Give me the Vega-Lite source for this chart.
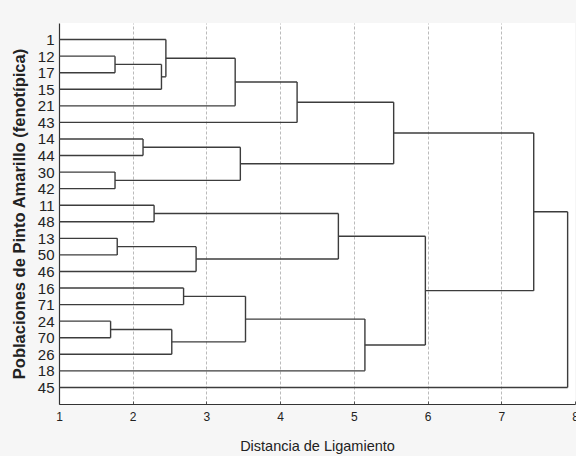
{
  "$schema": "https://vega.github.io/schema/vega-lite/v6.json",
  "autosize": {"type": "none"},
  "width": 516,
  "height": 381,
  "padding": {"left": 59, "top": 23, "right": 1, "bottom": 52},
  "background": "#f6f6f6",
  "config": {
    "view": {"fill": "white", "stroke": null},
    "font": "Liberation Sans"
  },
  "data": {
    "values": [
      {"h": 1.76, "ya": 2, "ha": 1, "yb": 3, "hb": 1},
      {"h": 2.39, "ya": 2.5, "ha": 1.76, "yb": 4, "hb": 1},
      {"h": 2.45, "ya": 1, "ha": 1, "yb": 3.25, "hb": 2.39},
      {"h": 3.39, "ya": 2.125, "ha": 2.45, "yb": 5, "hb": 1},
      {"h": 4.23, "ya": 3.5625, "ha": 3.39, "yb": 6, "hb": 1},
      {"h": 2.14, "ya": 7, "ha": 1, "yb": 8, "hb": 1},
      {"h": 1.76, "ya": 9, "ha": 1, "yb": 10, "hb": 1},
      {"h": 3.46, "ya": 7.5, "ha": 2.14, "yb": 9.5, "hb": 1.76},
      {"h": 5.54, "ya": 4.78125, "ha": 4.23, "yb": 8.5, "hb": 3.46},
      {"h": 2.29, "ya": 11, "ha": 1, "yb": 12, "hb": 1},
      {"h": 1.79, "ya": 13, "ha": 1, "yb": 14, "hb": 1},
      {"h": 2.86, "ya": 13.5, "ha": 1.79, "yb": 15, "hb": 1},
      {"h": 4.79, "ya": 11.5, "ha": 2.29, "yb": 14.25, "hb": 2.86},
      {"h": 2.69, "ya": 16, "ha": 1, "yb": 17, "hb": 1},
      {"h": 1.70, "ya": 18, "ha": 1, "yb": 19, "hb": 1},
      {"h": 2.53, "ya": 18.5, "ha": 1.70, "yb": 20, "hb": 1},
      {"h": 3.53, "ya": 16.5, "ha": 2.69, "yb": 19.25, "hb": 2.53},
      {"h": 5.15, "ya": 17.875, "ha": 3.53, "yb": 21, "hb": 1},
      {"h": 5.97, "ya": 12.875, "ha": 4.79, "yb": 19.4375, "hb": 5.15},
      {"h": 7.44, "ya": 6.640625, "ha": 5.54, "yb": 16.15625, "hb": 5.97},
      {"h": 7.90, "ya": 11.3984375, "ha": 7.44, "yb": 22, "hb": 1}
    ]
  },
  "encoding": {
    "y": {
      "field": "ya",
      "type": "quantitative",
      "scale": {"domain": [0, 23], "reverse": true, "nice": false, "zero": false},
      "axis": {
        "title": "Poblaciones de Pinto Amarillo (fenotípica)",
        "titleFontSize": 16.5,
        "titleFontWeight": "bold",
        "titleColor": "#222",
        "titleX": -32,
        "titleY": 190.5,
        "titleAngle": -90,
        "titleBaseline": "bottom",
        "values": [1,2,3,4,5,6,7,8,9,10,11,12,13,14,15,16,17,18,19,20,21,22],
        "labelExpr": "['1','12','17','15','21','43','14','44','30','42','11','48','13','50','46','16','71','24','70','26','18','45'][datum.value - 1]",
        "labelFontSize": 15,
        "labelColor": "#222",
        "labelPadding": 5,
        "ticks": false,
        "grid": false,
        "domainColor": "#333",
        "domainWidth": 1.2
      }
    }
  },
  "layer": [
    {
      "mark": {"type": "rule", "color": "#3c3c3c", "strokeWidth": 1.4},
      "encoding": {
        "x": {
          "field": "h",
          "type": "quantitative",
          "scale": {"domain": [1, 8], "nice": false, "zero": false},
          "axis": {
            "title": "Distancia de Ligamiento",
            "titleFontSize": 14.5,
            "titleFontWeight": "normal",
            "titleColor": "#222",
            "titlePadding": 17,
            "values": [1,1.25,1.5,1.75,2,2.25,2.5,2.75,3,3.25,3.5,3.75,4,4.25,4.5,4.75,5,5.25,5.5,5.75,6,6.25,6.5,6.75,7,7.25,7.5,7.75,8],
            "format": ".0f",
            "labelExpr": "datum.value % 1 == 0 ? datum.label : ''",
            "labelFontSize": 12,
            "labelColor": "#222",
            "labelPadding": 10,
            "labelFlush": false,
            "tickSize": -3,
            "tickColor": "#555",
            "domainColor": "#333",
            "domainWidth": 1.2,
            "grid": true,
            "gridColor": "#aaaaaa",
            "gridDash": [3, 2],
            "gridWidth": 0.8,
            "gridOpacity": {"condition": {"test": "datum.value % 1 == 0 && datum.value > 1 && datum.value < 8", "value": 1}, "value": 0}
          }
        },
        "y": {"field": "ya", "type": "quantitative"},
        "y2": {"field": "yb"}
      }
    },
    {
      "mark": {"type": "rule", "color": "#3c3c3c", "strokeWidth": 1.4},
      "encoding": {
        "x": {"field": "ha", "type": "quantitative"},
        "x2": {"field": "h"},
        "y": {"field": "ya", "type": "quantitative"}
      }
    },
    {
      "mark": {"type": "rule", "color": "#3c3c3c", "strokeWidth": 1.4},
      "encoding": {
        "x": {"field": "hb", "type": "quantitative"},
        "x2": {"field": "h"},
        "y": {"field": "yb", "type": "quantitative"}
      }
    }
  ]
}
